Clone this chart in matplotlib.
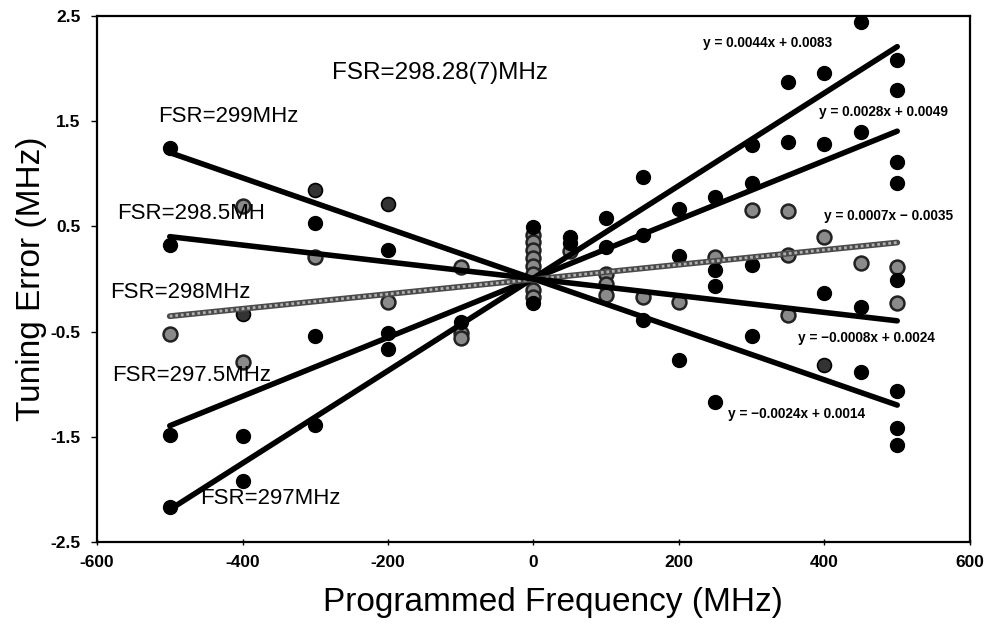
import matplotlib
matplotlib.use("Agg")
import matplotlib.pyplot as plt
import numpy as np

plt.rcParams['font.family'] = ['Liberation Sans', 'DejaVu Sans']

# Trend lines (from the equations shown): label, slope, intercept, colour
fsr_labels = ["FSR=297MHz", "FSR=297.5MHz", "FSR=298MHz", "FSR=298.5MH", "FSR=299MHz"]
slopes = [0.0044, 0.0028, 0.0007, -0.0008, -0.0024]
intercepts = [0.0083, 0.0049, -0.0035, 0.0024, 0.0014]
line_colors = ["black", "black", "#8c8c8c", "black", "black"]
equations = ["y = 0.0044x + 0.0083", "y = 0.0028x + 0.0049", "y = 0.0007x \u2212 0.0035",
             "y = \u22120.0008x + 0.0024", "y = \u22120.0024x + 0.0014"]
fit_range = [-500, 500]

# Measured points (black filled)
black_x = [-500, -500, -500, -500, -400, -400, -300, -300, -300, -200, -200, -200, -100,
           0, 0, 50, 50, 100, 100, 150, 150, 150, 200, 200, 200, 250, 250, 250, 250,
           300, 300, 300, 300, 350, 350, 400, 400, 400, 450, 450, 450, 450,
           500, 500, 500, 500, 500, 500, 500, 500]
black_y = [1.245, 0.32, -1.48, -2.17, -1.49, -1.92, 0.53, -0.54, -1.39, 0.28, -0.51, -0.67, -0.41,
           0.49, -0.23, 0.40, 0.34, 0.58, 0.30, 0.97, 0.42, -0.39, 0.67, 0.22, -0.77, 0.78, 0.09, -0.07, -1.17,
           1.27, 0.91, 0.13, -0.54, 1.87, 1.30, 1.96, 1.28, -0.13, 2.44, 1.40, -0.27, -0.88,
           2.08, 1.80, 1.11, 0.91, -0.01, -1.06, -1.42, -1.58]

# Dark hatched points
dark_x = [-300, -200, -400, 400]
dark_y = [0.85, 0.71, -0.33, -0.82]

# Gray hatched points
gray_x = [-500, -400, -400, -300, -200, -100, -100, -100,
          0, 0, 0, 0, 0, 0, 0, 0, 50, 100, 100, 100, 150, 200, 250, 300,
          350, 350, 350, 400, 450, 500, 500]
gray_y = [-0.52, 0.69, -0.79, 0.21, -0.22, 0.11, -0.51, -0.56,
          0.42, 0.35, 0.28, 0.20, 0.12, 0.05, -0.10, -0.17, 0.27, 0.05, -0.05, -0.15, -0.17, -0.22, 0.21, 0.66,
          0.65, 0.23, -0.34, 0.40, 0.15, 0.11, -0.23]

xticks = [-600, -400, -200, 0, 200, 400, 600]
yticks = [-2.5, -1.5, -0.5, 0.5, 1.5, 2.5]

fig = plt.figure(figsize=(9.92, 6.29), dpi=100)
ax = fig.add_axes([0.0978, 0.1383, 0.8800, 0.8363])

ax.scatter(gray_x, gray_y, s=100, c="#8a8a8a", edgecolors="#222222", linewidths=1.8, zorder=2)
ax.scatter(dark_x, dark_y, s=100, c="#333333", edgecolors="black", linewidths=1.2, zorder=2)
ax.scatter(black_x, black_y, s=100, c="black", edgecolors="black", linewidths=1.0, zorder=3)

xs = np.array(fit_range, dtype=float)
for m, b, col in zip(slopes, intercepts, line_colors):
    if col != "black":
        ax.plot(xs, m * xs + b, color="#4a4a4a", lw=4.2, solid_capstyle="round", zorder=4)
        ax.plot(xs, m * xs + b, color="#b0b0b0", lw=2.0, ls=(0, (1, 1)), zorder=4)
    else:
        ax.plot(xs, m * xs + b, color=col, lw=4.0, solid_capstyle="round", zorder=4)

# FSR labels
fsr_pos = [(-458, -2.09), (-579, -0.92), (-582, -0.13), (-572, 0.62), (-516, 1.54)]
for lab, (px, py) in zip(fsr_labels, fsr_pos):
    ax.text(px, py, lab, fontsize=16, ha="left", va="center", zorder=5)
ax.text(-277, 1.96, "FSR=298.28(7)MHz", fontsize=17.5, ha="left", va="center", zorder=5)

eq_pos = [(233, 2.24), (392, 1.59), (399, 0.60), (364, -0.56), (268, -1.28)]
for eq, (px, py) in zip(equations, eq_pos):
    ax.text(px, py, eq, fontsize=9.8, fontweight="bold", ha="left", va="center", zorder=5)

ax.set_xlim(-600, 600)
ax.set_ylim(-2.5, 2.5)
ax.set_xticks(xticks)
ax.set_yticks(yticks)
ax.set_xticklabels([str(t) for t in xticks], fontsize=12.5, fontweight="bold")
ax.set_yticklabels([str(t) for t in yticks], fontsize=12.5, fontweight="bold")
ax.tick_params(axis="x", direction="inout", length=5, width=1, pad=7)
ax.tick_params(axis="y", direction="out", length=4, width=1, pad=8)
for sp in ax.spines.values():
    sp.set_linewidth(1.6)

ax.set_xlabel("Programmed Frequency (MHz)", fontsize=24)
ax.xaxis.set_label_coords(0.522, -0.085)
ax.set_ylabel("Tuning Error (MHz)", fontsize=24, labelpad=2)

fig.savefig("out.png", dpi=100)
